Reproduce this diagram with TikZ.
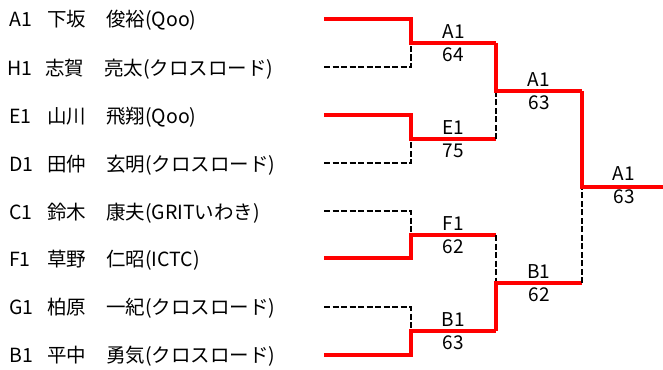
\documentclass[tikz,border=0pt]{standalone}
\usepackage{fontspec}
\setmainfont{Noto Sans CJK JP}
\begin{document}
\begin{tikzpicture}[x=1pt,y=-1pt,
  winline/.style={draw=red,line width=3.5pt,line cap=butt,line join=miter},
  loseline/.style={draw=black,line width=2.5pt,dash pattern=on 6pt off 2.5pt},
  pname/.style={anchor=base west,inner sep=0pt,font=\fontsize{19.5}{21}\selectfont},
  rlab/.style={anchor=base,inner sep=0pt,font=\fontsize{19}{21}\selectfont}]
\useasboundingbox (0,0) rectangle (663,369);
% player names
\newcommand{\prow}[3]{\makebox[38pt][l]{#1}\makebox[59pt][l]{#2}#3}
\node[pname] (nA1) at (9,27) {\prow{A1}{下坂}{俊裕(Qoo)}};
\node[pname] (nH1) at (7,75) {\prow{H1}{志賀}{亮太(クロスロード)}};
\node[pname] (nE1) at (9,123) {\prow{E1}{山川}{飛翔(Qoo)}};
\node[pname] (nD1) at (9,171) {\prow{D1}{田仲}{玄明(クロスロード)}};
\node[pname] (nC1) at (9,219) {\prow{C1}{鈴木}{康夫(GRITいわき)}};
\node[pname] (nF1) at (9,266) {\prow{F1}{草野}{仁昭(ICTC)}};
\node[pname] (nG1) at (9,314) {\prow{G1}{柏原}{一紀(クロスロード)}};
\node[pname] (nB1) at (9,362) {\prow{B1}{平中}{勇気(クロスロード)}};
% coordinates
\coordinate (s1) at (324,19);
\coordinate (s2) at (324,67);
\coordinate (s3) at (324,115);
\coordinate (s4) at (324,163);
\coordinate (s5) at (324,211);
\coordinate (s6) at (324,258);
\coordinate (s7) at (324,307);
\coordinate (s8) at (324,355);
\coordinate (r1a) at (411,43);
\coordinate (r1b) at (411,139);
\coordinate (r1c) at (411,235);
\coordinate (r1d) at (411,331);
\coordinate (r2a) at (496,91);
\coordinate (r2b) at (496,283);
\coordinate (r3) at (582,187);
\coordinate (fin) at (663,187);
% round 1
\draw[loseline] (s2) -| (r1a);
\draw[loseline] (s4) -| (r1b);
\draw[loseline] (s5) -| (r1c);
\draw[loseline] (s7) -| (r1d);
\draw[winline] (s1) -| (r1a) -- (r1a -| r2a);
\draw[winline] (s3) -| (r1b) -- (r1b -| r2a);
\draw[winline] (s6) -| (r1c) -- (r1c -| r2a);
\draw[winline] (s8) -| (r1d) -- (r1d -| r2a);
% round 2
\draw[loseline] (r1b -| r2a) -- (r2a);
\draw[loseline] (r1c -| r2a) -- (r2b);
\draw[winline] (r1a -| r2a) -- (r2a) -- (r2a -| r3);
\draw[winline] (r1d -| r2a) -- (r2b) -- (r2b -| r3);
% final
\draw[loseline] (r2b -| r3) -- (r3);
\draw[winline] (r2a -| r3) -- (r3) -- (fin);
% labels
\node[rlab] (l1) at (453.5,38.5) {A1};
\node[rlab] (c1) at (453.5,61.5) {64};
\node[rlab] (l2) at (453.5,134.5) {E1};
\node[rlab] (c2) at (453.5,157.5) {75};
\node[rlab] (l3) at (453.5,230.5) {F1};
\node[rlab] (c3) at (453.5,253.5) {62};
\node[rlab] (l4) at (453.5,326.5) {B1};
\node[rlab] (c4) at (453.5,349.5) {63};
\node[rlab] (l5) at (539,86.5) {A1};
\node[rlab] (c5) at (539,109.5) {63};
\node[rlab] (l6) at (539,278.5) {B1};
\node[rlab] (c6) at (539,301.5) {62};
\node[rlab] (l7) at (624,180.5) {A1};
\node[rlab] (c7) at (624,203.5) {63};
\end{tikzpicture}
\end{document}
